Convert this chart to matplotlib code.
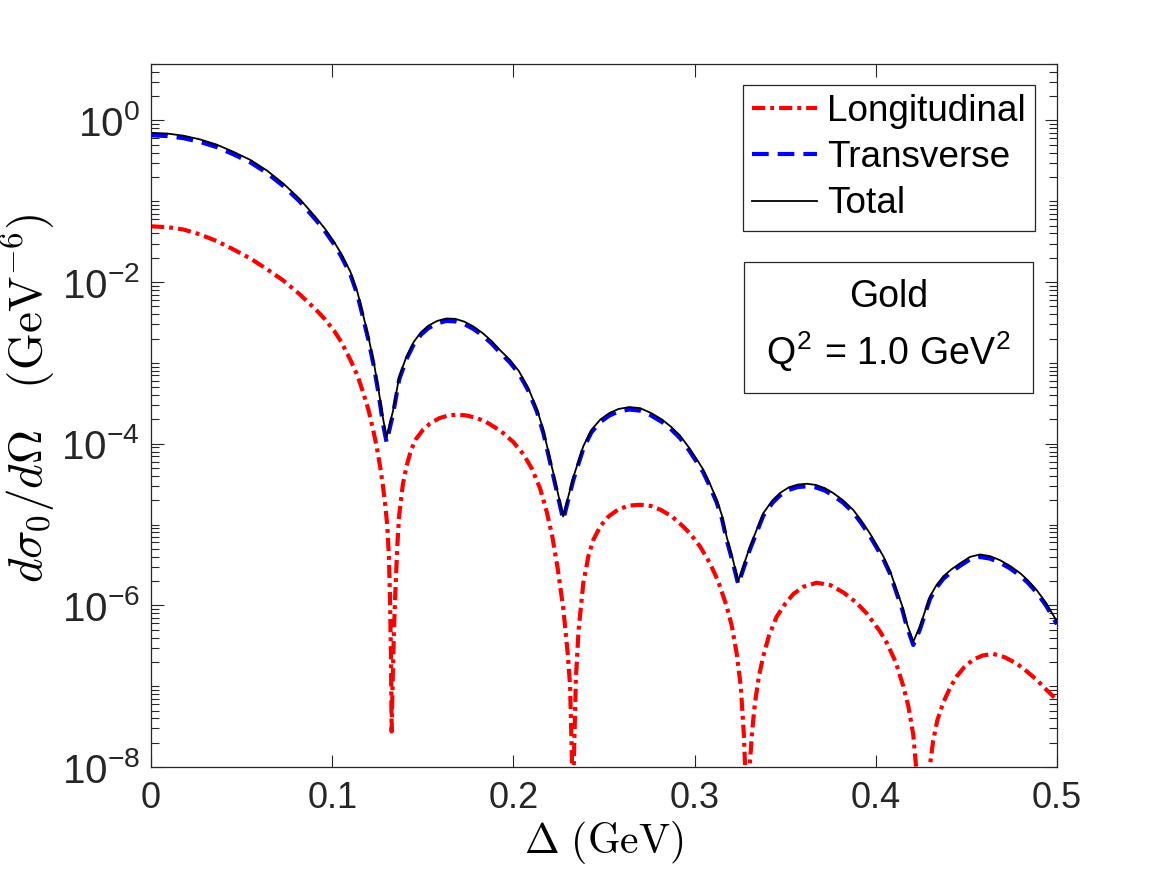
import matplotlib
matplotlib.use("Agg")
import matplotlib.pyplot as plt
import numpy as np
from matplotlib.patches import Rectangle
from matplotlib.ticker import LogLocator, NullFormatter, FixedLocator

# values, stored as log10(dsigma/dOmega [GeV^-6])
delta = [0.000, 0.009, 0.018, 0.027, 0.036, 0.045, 0.055, 0.064, 0.073, 0.082,
         0.091, 0.096, 0.101, 0.105, 0.110, 0.114, 0.117, 0.120, 0.123, 0.1255,
         0.128, 0.130, 0.1335, 0.137, 0.141, 0.145, 0.149, 0.153, 0.158, 0.163,
         0.168, 0.173, 0.178, 0.183, 0.188, 0.193, 0.198, 0.203, 0.208, 0.213,
         0.2165, 0.222, 0.2275, 0.233, 0.2386, 0.243, 0.248, 0.253, 0.258, 0.264,
         0.270, 0.276, 0.282, 0.287, 0.292, 0.297, 0.302, 0.3048, 0.308, 0.3122,
         0.315, 0.3177, 0.321, 0.3241, 0.3306, 0.3379, 0.343, 0.3471, 0.352, 0.357,
         0.362, 0.367, 0.372, 0.3765, 0.382, 0.3876, 0.392, 0.3968, 0.4041, 0.408,
         0.4115, 0.4145, 0.4171, 0.4207, 0.4244, 0.4275, 0.4299, 0.4335, 0.4373, 0.442,
         0.4465, 0.452, 0.4575, 0.463, 0.4685, 0.474, 0.4796, 0.484, 0.4888, 0.494,
         0.500]

log_total = [-0.153, -0.162, -0.189, -0.234, -0.297, -0.383, -0.490, -0.620, -0.780, -0.970,
             -1.200, -1.340, -1.500, -1.650, -1.870, -2.130, -2.400, -2.680, -3.000, -3.320,
             -3.680, -3.920, -3.600, -3.170, -2.920, -2.740, -2.620, -2.540, -2.480, -2.450,
             -2.455, -2.490, -2.550, -2.630, -2.730, -2.850, -2.960, -3.100, -3.300, -3.570,
             -3.830, -4.360, -4.900, -4.420, -4.030, -3.830, -3.700, -3.620, -3.570, -3.546,
             -3.560, -3.620, -3.700, -3.790, -3.900, -4.050, -4.220, -4.320, -4.470, -4.690,
             -4.880, -5.150, -5.420, -5.700, -5.270, -4.860, -4.700, -4.610, -4.540, -4.505,
             -4.495, -4.510, -4.550, -4.610, -4.700, -4.820, -4.950, -5.110, -5.390, -5.580,
             -5.810, -6.000, -6.220, -6.450, -6.260, -6.050, -5.890, -5.750, -5.640, -5.550,
             -5.480, -5.400, -5.370, -5.390, -5.440, -5.510, -5.600, -5.690, -5.810, -5.970,
             -6.200]

log_transverse = [-0.184, -0.193, -0.220, -0.265, -0.328, -0.414, -0.521, -0.651, -0.811, -1.001,
                  -1.231, -1.371, -1.531, -1.682, -1.903, -2.164, -2.436, -2.718, -3.042, -3.368,
                  -3.750, -3.980, -3.640, -3.203, -2.952, -2.771, -2.651, -2.571, -2.511, -2.481,
                  -2.486, -2.521, -2.581, -2.661, -2.761, -2.881, -2.992, -3.132, -3.333, -3.604,
                  -3.866, -4.398, -4.940, -4.455, -4.062, -3.861, -3.731, -3.651, -3.601, -3.577,
                  -3.591, -3.651, -3.731, -3.821, -3.932, -4.083, -4.254, -4.355, -4.506, -4.727,
                  -4.920, -5.190, -5.460, -5.740, -5.305, -4.892, -4.731, -4.641, -4.571, -4.536,
                  -4.526, -4.541, -4.581, -4.641, -4.731, -4.852, -4.983, -5.144, -5.424, -5.615,
                  -5.848, -6.040, -6.262, -6.490, -6.297, -6.084, -5.922, -5.781, -5.671, -5.581,
                  -5.511, -5.431, -5.401, -5.421, -5.471, -5.541, -5.631, -5.721, -5.842, -6.003,
                  -6.233]

# longitudinal part has its own, denser grid around the zeros
delta_long = [0.000, 0.009, 0.018, 0.027, 0.036, 0.045, 0.055, 0.064, 0.073, 0.082,
              0.091, 0.096, 0.101, 0.105, 0.110, 0.114, 0.117, 0.120, 0.1227, 0.1245,
              0.1265, 0.128, 0.1295, 0.1305, 0.1313, 0.1319, 0.1324, 0.1328, 0.1333, 0.1341,
              0.1350, 0.1359, 0.1369, 0.1390, 0.1411, 0.1435, 0.1460, 0.1500, 0.1540, 0.1590,
              0.1640, 0.1690, 0.1740, 0.1795, 0.1850, 0.1900, 0.1945, 0.2000, 0.2055, 0.2100,
              0.2147, 0.2185, 0.2215, 0.2245, 0.2276, 0.2300, 0.2313, 0.2323, 0.2328, 0.2334,
              0.2345, 0.2360, 0.2386, 0.2415, 0.2441, 0.2480, 0.2525, 0.2580, 0.2640, 0.2699,
              0.2760, 0.2815, 0.2875, 0.2935, 0.2975, 0.3030, 0.3085, 0.3130, 0.3177, 0.3205,
              0.3232, 0.3255, 0.3272, 0.3278, 0.3290, 0.3302, 0.3318, 0.3333, 0.3355, 0.3379,
              0.3410, 0.3453, 0.3500, 0.3545, 0.3600, 0.3674, 0.3750, 0.3821, 0.3890, 0.3950,
              0.4023, 0.4060, 0.4110, 0.4152, 0.4180, 0.4207, 0.4222, 0.4255, 0.4292, 0.4317,
              0.4340, 0.4373, 0.4410, 0.4446, 0.4490, 0.4538, 0.4590, 0.4648, 0.4710, 0.4778,
              0.4830, 0.4888, 0.4940, 0.5000]

log_longitudinal = [-1.31, -1.32, -1.35, -1.41, -1.49, -1.59, -1.71, -1.84, -1.98, -2.15,
                    -2.34, -2.46, -2.60, -2.74, -2.96, -3.16, -3.36, -3.58, -3.84, -4.03,
                    -4.29, -4.52, -4.80, -5.05, -5.40, -5.90, -6.60, -7.56, -7.00, -6.30,
                    -5.75, -5.28, -4.90, -4.50, -4.27, -4.08, -3.95, -3.83, -3.75, -3.685,
                    -3.65, -3.64, -3.65, -3.68, -3.73, -3.80, -3.87, -3.98, -4.13, -4.30,
                    -4.55, -4.85, -5.15, -5.55, -6.05, -6.60, -7.00, -7.90, -9.00, -7.90,
                    -6.90, -6.30, -5.72, -5.38, -5.19, -5.02, -4.90, -4.81, -4.765, -4.755,
                    -4.77, -4.82, -4.90, -5.02, -5.11, -5.27, -5.48, -5.70, -6.01, -6.25,
                    -6.59, -7.00, -7.60, -7.95, -9.00, -8.05, -7.55, -7.21, -6.88, -6.63,
                    -6.38, -6.14, -5.98, -5.86, -5.77, -5.72, -5.75, -5.84, -5.96, -6.10,
                    -6.32, -6.46, -6.70, -7.00, -7.25, -7.60, -7.98, -9.00, -8.10, -7.67,
                    -7.42, -7.20, -7.02, -6.88, -6.76, -6.67, -6.62, -6.60, -6.64, -6.72,
                    -6.81, -6.92, -7.04, -7.17]

x_ticks = [0, 0.1, 0.2, 0.3, 0.4, 0.5]
x_tick_labels = ["0", "0.1", "0.2", "0.3", "0.4", "0.5"]
y_ticks = [1e-8, 1e-6, 1e-4, 1e-2, 1e0]

plt.rcParams["font.family"] = ["Liberation Sans", "DejaVu Sans"]
plt.rcParams["mathtext.fontset"] = "cm"
plt.rcParams["lines.scale_dashes"] = False

axis_color = "#262626"

fig = plt.figure(figsize=(11.67, 8.75), dpi=100)
ax = fig.add_axes([0.1294, 0.1234, 0.7763, 0.8035])

ax.plot(delta_long, 10.0 ** np.array(log_longitudinal), color="red", linewidth=3.0,
        dashes=(9.5, 3.6, 2.8, 3.6), label="Longitudinal")
ax.plot(delta, 10.0 ** np.array(log_transverse), color="blue", linewidth=3.0,
        dashes=(12.0, 6.5), label="Transverse")
ax.plot(delta, 10.0 ** np.array(log_total), color="black", linewidth=1.3, label="Total")

ax.set_yscale("log")
ax.set_xlim(0, 0.5)
ax.set_ylim(1e-8, 5)

ax.xaxis.set_major_locator(FixedLocator(x_ticks))
ax.set_xticklabels(x_tick_labels)
ax.yaxis.set_major_locator(FixedLocator(y_ticks))
ax.yaxis.set_minor_locator(LogLocator(base=10, subs=range(1, 10), numticks=100))
ax.yaxis.set_minor_formatter(NullFormatter())

ax.tick_params(which="both", direction="in", top=True, right=True,
               colors=axis_color, labelcolor=axis_color, width=0.8)
ax.tick_params(which="major", length=9, pad=10)
ax.tick_params(axis="x", which="major", labelsize=26)
ax.tick_params(axis="y", which="major", labelsize=29, pad=8)
ax.tick_params(which="minor", length=6)
for spine in ax.spines.values():
    spine.set_color(axis_color)
    spine.set_linewidth(0.9)

ax.set_xlabel(r"$\Delta\ (\mathrm{GeV})$", fontsize=30, labelpad=2)
ax.set_ylabel(r"$d\sigma_0/d\Omega\ \ \ (\mathrm{GeV}^{-6})$", fontsize=34)
ax.yaxis.set_label_coords(-0.104, 0.525)

leg = ax.legend(loc="upper right", bbox_to_anchor=(0.9757, 0.970),
                borderaxespad=0, fontsize=26.6, handlelength=1.75,
                handletextpad=0.27, labelspacing=0.3, borderpad=0.25,
                fancybox=False, framealpha=1, edgecolor=axis_color)
leg.get_frame().set_linewidth(0.9)

ax.add_patch(Rectangle((0.6549, 0.5316), 0.319, 0.1863, transform=ax.transAxes,
                       facecolor="white", edgecolor=axis_color, linewidth=0.9, zorder=5))
ax.text(0.8142, 0.6686, "Gold", transform=ax.transAxes, ha="center", va="center",
        fontsize=27, color="black", zorder=6)
ax.text(0.8142, 0.5903, r"Q$^\mathregular{2}$ = 1.0 GeV$^\mathregular{2}$",
        transform=ax.transAxes, ha="center", va="center", fontsize=27,
        color="black", zorder=6)

fig.savefig("out.png", dpi=100)
